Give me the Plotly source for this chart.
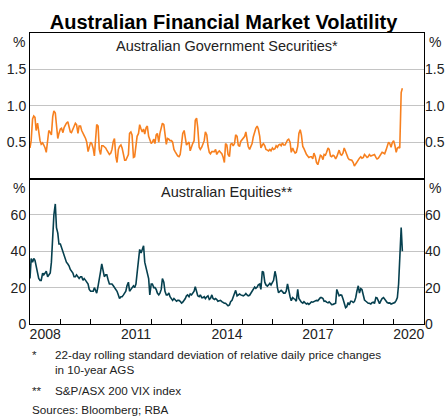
import pandas as pd
import plotly.graph_objects as go

# semi-monthly readings, Jan 2008 to mid-Apr 2020
dates = pd.date_range("2008-01-01", periods=296, freq="SMS")

ags_volatility = [
    0.42, 0.52, 0.82, 0.86, 0.84, 0.66, 0.76, 0.60, 0.52, 0.47,
    0.49, 0.46, 0.42, 0.36, 0.58, 0.66, 0.63, 0.60, 0.85, 0.93,
    0.90, 0.73, 0.55, 0.62, 0.68, 0.69, 0.63, 0.70, 0.74, 0.76,
    0.78, 0.70, 0.64, 0.63, 0.68, 0.74, 0.76, 0.74, 0.62, 0.72,
    0.72, 0.66, 0.63, 0.59, 0.55, 0.50, 0.37, 0.44, 0.50, 0.48,
    0.41, 0.31, 0.55, 0.74, 0.72, 0.40, 0.33, 0.45, 0.45, 0.44,
    0.42, 0.39, 0.36, 0.33, 0.35, 0.40, 0.51, 0.55, 0.30, 0.22,
    0.40, 0.44, 0.46, 0.42, 0.33, 0.25, 0.25, 0.28, 0.33, 0.62,
    0.64, 0.60, 0.29, 0.30, 0.45, 0.58, 0.62, 0.74, 0.68, 0.64,
    0.68, 0.61, 0.70, 0.72, 0.58, 0.52, 0.48, 0.50, 0.54, 0.48,
    0.60, 0.62, 0.50, 0.62, 0.72, 0.76, 0.74, 0.62, 0.47, 0.55,
    0.54, 0.52, 0.52, 0.50, 0.40, 0.37, 0.33, 0.31, 0.30, 0.33,
    0.48, 0.62, 0.66, 0.52, 0.46, 0.48, 0.50, 0.38, 0.44, 0.48,
    0.52, 0.80, 0.83, 0.70, 0.43, 0.40, 0.43, 0.47, 0.52, 0.64,
    0.60, 0.45, 0.36, 0.34, 0.37, 0.37, 0.37, 0.40, 0.33, 0.36,
    0.38, 0.36, 0.34, 0.30, 0.22, 0.48, 0.46, 0.33, 0.30, 0.47,
    0.48, 0.45, 0.48, 0.60, 0.58, 0.46, 0.44, 0.51, 0.54, 0.55,
    0.58, 0.64, 0.55, 0.44, 0.40, 0.45, 0.48, 0.57, 0.64, 0.69,
    0.72, 0.68, 0.58, 0.42, 0.46, 0.48, 0.45, 0.40, 0.39, 0.38,
    0.40, 0.38, 0.42, 0.40, 0.41, 0.45, 0.43, 0.46, 0.47, 0.45,
    0.49, 0.46, 0.46, 0.50, 0.53, 0.54, 0.50, 0.36, 0.42, 0.38,
    0.35, 0.36, 0.44, 0.62, 0.67, 0.60, 0.44, 0.41, 0.36, 0.33,
    0.31, 0.29, 0.30, 0.30, 0.27, 0.35, 0.30, 0.22, 0.19, 0.27,
    0.32, 0.31, 0.26, 0.33, 0.32, 0.36, 0.42, 0.40, 0.31, 0.30,
    0.32, 0.31, 0.27, 0.30, 0.36, 0.39, 0.33, 0.32, 0.35, 0.42,
    0.37, 0.31, 0.28, 0.26, 0.26, 0.25, 0.22, 0.17, 0.20, 0.23,
    0.26, 0.28, 0.30, 0.28, 0.29, 0.33, 0.31, 0.29, 0.30, 0.33,
    0.31, 0.32, 0.32, 0.33, 0.29, 0.27, 0.28, 0.31, 0.35, 0.36,
    0.35, 0.34, 0.39, 0.46, 0.50, 0.48, 0.43, 0.49, 0.52, 0.46,
    0.36, 0.42, 0.43, 0.42, 1.18, 1.24,
]

equity_vix = [
    25, 36, 34, 36, 35, 32, 27, 25, 24, 24,
    28, 27, 28, 29, 26, 27, 28, 34, 48, 60,
    66, 53, 50, 44, 44, 42, 40, 38, 36, 34,
    33, 32, 30, 29, 28, 26, 26, 27, 26, 25,
    26, 26, 24, 25, 24, 23, 22, 19, 18, 18,
    18, 20, 18, 17, 21, 24, 29, 33, 30, 26,
    27, 27, 24, 22, 22, 22, 21, 20, 19, 18,
    16, 14, 15, 15, 16, 17, 18, 21, 23, 18,
    19, 20, 21, 20, 22, 28, 37, 41, 39, 41,
    43, 34, 30, 28, 25, 16, 22, 22, 20, 20,
    19, 17, 16, 17, 19, 25, 23, 18, 16, 16,
    17, 15, 14, 13, 14, 13, 12.5, 13, 13, 12.5,
    11.5, 12, 13, 14, 15.5, 16, 15, 16.5, 16, 17,
    18, 20.5, 18, 15.5, 15, 16, 14.5, 14.5, 15, 14,
    15, 15.5, 13.5, 14, 16, 14, 13.5, 14, 13.5, 12.5,
    12.8, 13, 12.3, 11.8, 11.4, 11.4, 10.8, 10, 10.5, 12.3,
    13, 15, 17, 18.5, 15.5, 16, 16.5, 16, 15.5, 15.5,
    16, 16.8, 16, 15.5, 15.8, 17, 18, 19.5, 20.3, 19.6,
    20.3, 21.5, 22, 19, 29, 28.5, 23, 21.5, 20.8, 21.5,
    22.4, 21.5, 23, 24, 29, 26, 20, 17.2, 18, 18.5,
    17.8, 17, 17, 18, 22, 18, 15, 12.8, 14.5, 14,
    13.5, 12.5, 19, 14, 12.5, 12, 11.5, 12.3, 11.5, 11,
    11.4, 10.8, 11.5, 12.2, 12, 12.3, 12.8, 13, 12.8, 13.6,
    14.5, 14.5, 14, 12.5, 12.6, 12, 11.6, 12.2, 11.2, 10.7,
    10.8, 11.3, 11.4, 19, 17.5, 15.5, 16, 15.8, 13.8, 12,
    9, 9.5, 11.8, 10.5, 12.5, 12.5, 11.8, 12.3, 14.5, 18,
    21, 17, 19.5, 19, 15, 13.2, 12.5, 11.8, 11.4, 11.4,
    11, 11.7, 12, 11.3, 14.5, 14.3, 12.5, 11.2, 12.8, 14,
    14.5, 13.4, 12.5, 11.8, 11.5, 11.6, 11, 11.3, 11.6, 11.8,
    13, 14.5, 22, 36, 53, 40,
]

year_starts = [f"{y}-01-01" for y in range(2008, 2022)]
label_years = [2008, 2011, 2014, 2017, 2020]
ags_ticks = [0.5, 1.0, 1.5]
ags_ticktext = ["0.5", "1.0", "1.5"]
equity_ticks = [0, 20, 40, 60]

FONT = "Liberation Sans, Arial, sans-serif"
ORANGE = "#f7801f"
TEAL = "#06404f"
GRID = "#c4c4c4"
INK = "#222222"

fig = go.Figure()

fig.add_trace(go.Scatter(x=dates, y=ags_volatility, mode="lines",
                         line=dict(color=ORANGE, width=1.6),
                         xaxis="x2", yaxis="y", showlegend=False))
fig.add_trace(go.Scatter(x=dates, y=equity_vix, mode="lines",
                         line=dict(color=TEAL, width=1.6),
                         xaxis="x", yaxis="y2", showlegend=False))
# empty traces so the extra label axes get drawn
fig.add_trace(go.Scatter(x=dates[:1], y=[None], xaxis="x2", yaxis="y3",
                         showlegend=False, hoverinfo="skip"))
fig.add_trace(go.Scatter(x=dates[:1], y=[None], xaxis="x", yaxis="y4",
                         showlegend=False, hoverinfo="skip"))
fig.add_trace(go.Scatter(x=dates[:1], y=[None], xaxis="x3", yaxis="y2",
                         showlegend=False, hoverinfo="skip"))

frame = dict(showline=True, linecolor="black", linewidth=1, mirror=True,
             automargin=False)
tickfont = dict(family=FONT, size=14, color=INK)
xrange = [year_starts[0], year_starts[-1]]

fig.update_layout(
    template="none",
    width=447, height=417,
    margin=dict(l=30, r=23, t=33, b=93, autoexpand=False),
    paper_bgcolor="white", plot_bgcolor="white",
    showlegend=False,
    font=dict(family=FONT, color=INK),
    title=dict(text="Australian Financial Market Volatility",
               x=0.5, xanchor="center", y=0.948, yanchor="middle",
               font=dict(family=FONT, size=20, color="black", weight="bold")),
    # year boundary ticks, pointing into the plot
    xaxis=dict(anchor="y2", domain=[0, 1], type="date", range=xrange,
               tickmode="array", tickvals=year_starts,
               ticktext=[""] * len(year_starts),
               ticks="inside", ticklen=5, tickcolor="black", tickwidth=1,
               showgrid=False, zeroline=False, **frame),
    # year labels centred on the year
    xaxis3=dict(overlaying="x", anchor="y2", side="bottom", type="date",
                range=xrange, tickmode="array",
                tickvals=[f"{y}-07-02" for y in label_years],
                ticktext=[str(y) for y in label_years],
                ticks="", tickfont=tickfont, showgrid=False, zeroline=False,
                showline=False, automargin=False),
    xaxis2=dict(anchor="y", matches="x", type="date", showticklabels=False,
                ticks="", showgrid=False, zeroline=False, **frame),
    yaxis=dict(domain=[0.5, 1], anchor="x2", range=[0, 2],
               tickmode="array", tickvals=ags_ticks, ticktext=ags_ticktext,
               ticks="", tickfont=tickfont, showgrid=True, gridcolor=GRID,
               gridwidth=1, zeroline=False, **frame),
    yaxis2=dict(domain=[0, 0.5], anchor="x", range=[0, 80],
                tickmode="array", tickvals=equity_ticks,
                ticks="", tickfont=tickfont, showgrid=True, gridcolor=GRID,
                gridwidth=1, zeroline=False, **frame),
    yaxis3=dict(overlaying="y", side="right", anchor="x2", range=[0, 2],
                tickmode="array", tickvals=ags_ticks, ticktext=ags_ticktext,
                ticks="", tickfont=tickfont, showgrid=False, zeroline=False,
                showline=False, automargin=False),
    yaxis4=dict(overlaying="y2", side="right", anchor="x", range=[0, 80],
                tickmode="array", tickvals=equity_ticks,
                ticks="", tickfont=tickfont, showgrid=False, zeroline=False,
                showline=False, automargin=False),
)

# panel titles and unit labels
panel_titles = [
    ("Australian Government Securities*", 0.955),
    ("Australian Equities**", 0.455),
]
for text, yy in panel_titles:
    fig.add_annotation(text=text, xref="paper", yref="paper", x=0.5, y=yy,
                       xanchor="center", yanchor="middle", showarrow=False,
                       font=dict(family=FONT, size=14.5, color=INK))

for yy in [0.969, 0.468]:
    fig.add_annotation(text="%", xref="paper", yref="paper", x=0, y=yy,
                       xanchor="right", yanchor="middle", xshift=-3, showarrow=False,
                       font=dict(family=FONT, size=14, color=INK))
    fig.add_annotation(text="%", xref="paper", yref="paper", x=1, y=yy,
                       xanchor="left", yanchor="middle", xshift=3, showarrow=False,
                       font=dict(family=FONT, size=14, color=INK))

# footnotes
foot = dict(family=FONT, size=11.7, color=INK)
footnotes = [
    ("*", 0.0, -0.074),
    ("22-day rolling standard deviation of relative daily price changes<br>in 10-year AGS",
     0.058, -0.074),
    ("**", 0.0, -0.198),
    ("S&P/ASX 200 VIX index", 0.058, -0.198),
    ("Sources: Bloomberg; RBA", 0.0, -0.266),
]
for text, xx, yy in footnotes:
    fig.add_annotation(text=text, xref="paper", yref="paper", x=xx, y=yy,
                       xanchor="left", yanchor="top", align="left",
                       showarrow=False, font=foot)

fig.write_html("out.html", config={"displayModeBar": False},
               post_script="document.body.style.margin='0';"
                           "document.body.style.overflow='hidden';")
